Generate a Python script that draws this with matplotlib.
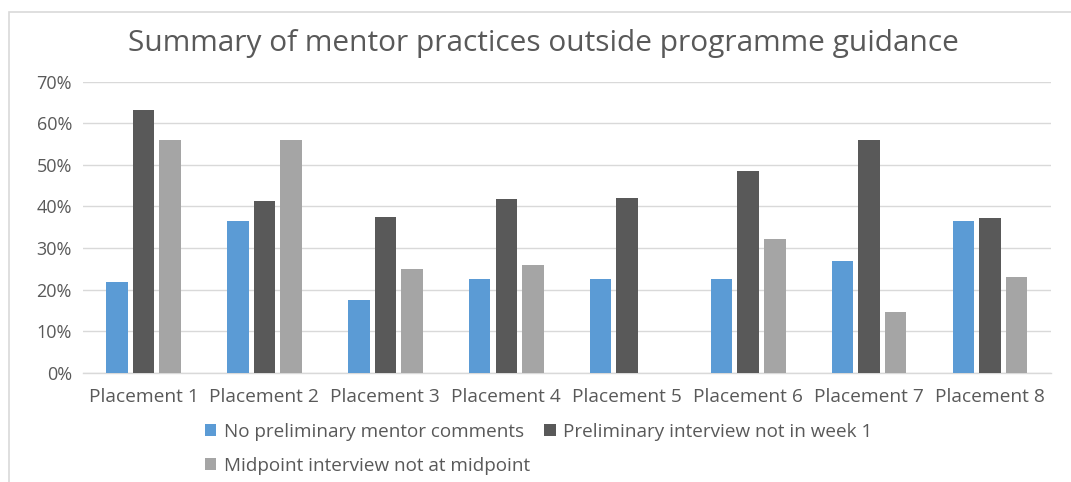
import matplotlib.pyplot as plt
from matplotlib.patches import Rectangle
from matplotlib.ticker import PercentFormatter
import numpy as np

plt.rcParams['font.family'] = ['Open Sans', 'DejaVu Sans']

categories = ['Placement 1', 'Placement 2', 'Placement 3', 'Placement 4',
              'Placement 5', 'Placement 6', 'Placement 7', 'Placement 8']
no_prelim_comments = [0.219, 0.366, 0.175, 0.226, 0.226, 0.226, 0.268, 0.366]
prelim_not_week1 = [0.633, 0.412, 0.374, 0.418, 0.420, 0.484, 0.560, 0.372]
midpoint_not_midpoint = [0.560, 0.560, 0.249, 0.258, 0.0, 0.322, 0.146, 0.231]

series_names = ['No preliminary mentor comments',
                'Preliminary interview not in week 1',
                'Midpoint interview not at midpoint']
colors = ['#5B9BD5', '#595959', '#A5A5A5']
text_color = '#595959'

fig = plt.figure(figsize=(10.71, 4.82), dpi=100)
# chart frame (only left and top edges show in the crop)
fig.add_artist(Rectangle((9 / 1071, -0.1), 1.2, 1 - 12 / 482 + 0.1,
                         transform=fig.transFigure, fill=False,
                         edgecolor='#D9D9D9', linewidth=1.2))

ax = fig.add_axes([83 / 1071, 1 - 372.7 / 482, 967.5 / 1071, 291 / 482])

x = np.arange(len(categories))
step = 0.22
width = 0.178
handles = []
for i, (vals, name, c) in enumerate(zip(
        [no_prelim_comments, prelim_not_week1, midpoint_not_midpoint],
        series_names, colors)):
    b = ax.bar(x + (i - 1) * step, vals, width, color=c, label=name,
               zorder=3)
    handles.append(b)

ax.set_xlim(-0.5, len(categories) - 0.5)
ax.set_ylim(0, 0.7)
ax.set_yticks(np.arange(0, 0.71, 0.1))
ax.yaxis.set_major_formatter(PercentFormatter(1.0, decimals=0))
ax.set_xticks(x)
ax.set_xticklabels(categories)
ax.tick_params(axis='both', length=0, colors=text_color)
ax.tick_params(axis='x', pad=11, labelsize=13.8)
ax.tick_params(axis='y', pad=8, labelsize=13)
ax.grid(axis='y', color='#D9D9D9', linewidth=1, zorder=0)
for s in ['top', 'right', 'left']:
    ax.spines[s].set_visible(False)
ax.spines['bottom'].set_color('#D9D9D9')
ax.spines['bottom'].set_linewidth(1)

fig.text(543 / 1071, 1 - 44 / 482,
         'Summary of mentor practices outside programme guidance',
         ha='center', va='center', fontsize=21.5, color=text_color)

# reorder so that row 1 holds the first two series, row 2 the third
order = [0, 2, 1]
fig.legend([handles[k] for k in order], [series_names[k] for k in order],
           ncol=2, loc='upper left', bbox_to_anchor=(188 / 1071, 1 - 406 / 482),
           frameon=False, fontsize=13.6, labelcolor=text_color,
           handlelength=0.6, handleheight=0.6, handletextpad=0.4,
           columnspacing=0.75, labelspacing=0.85)

fig.savefig('out.png', dpi=100)
